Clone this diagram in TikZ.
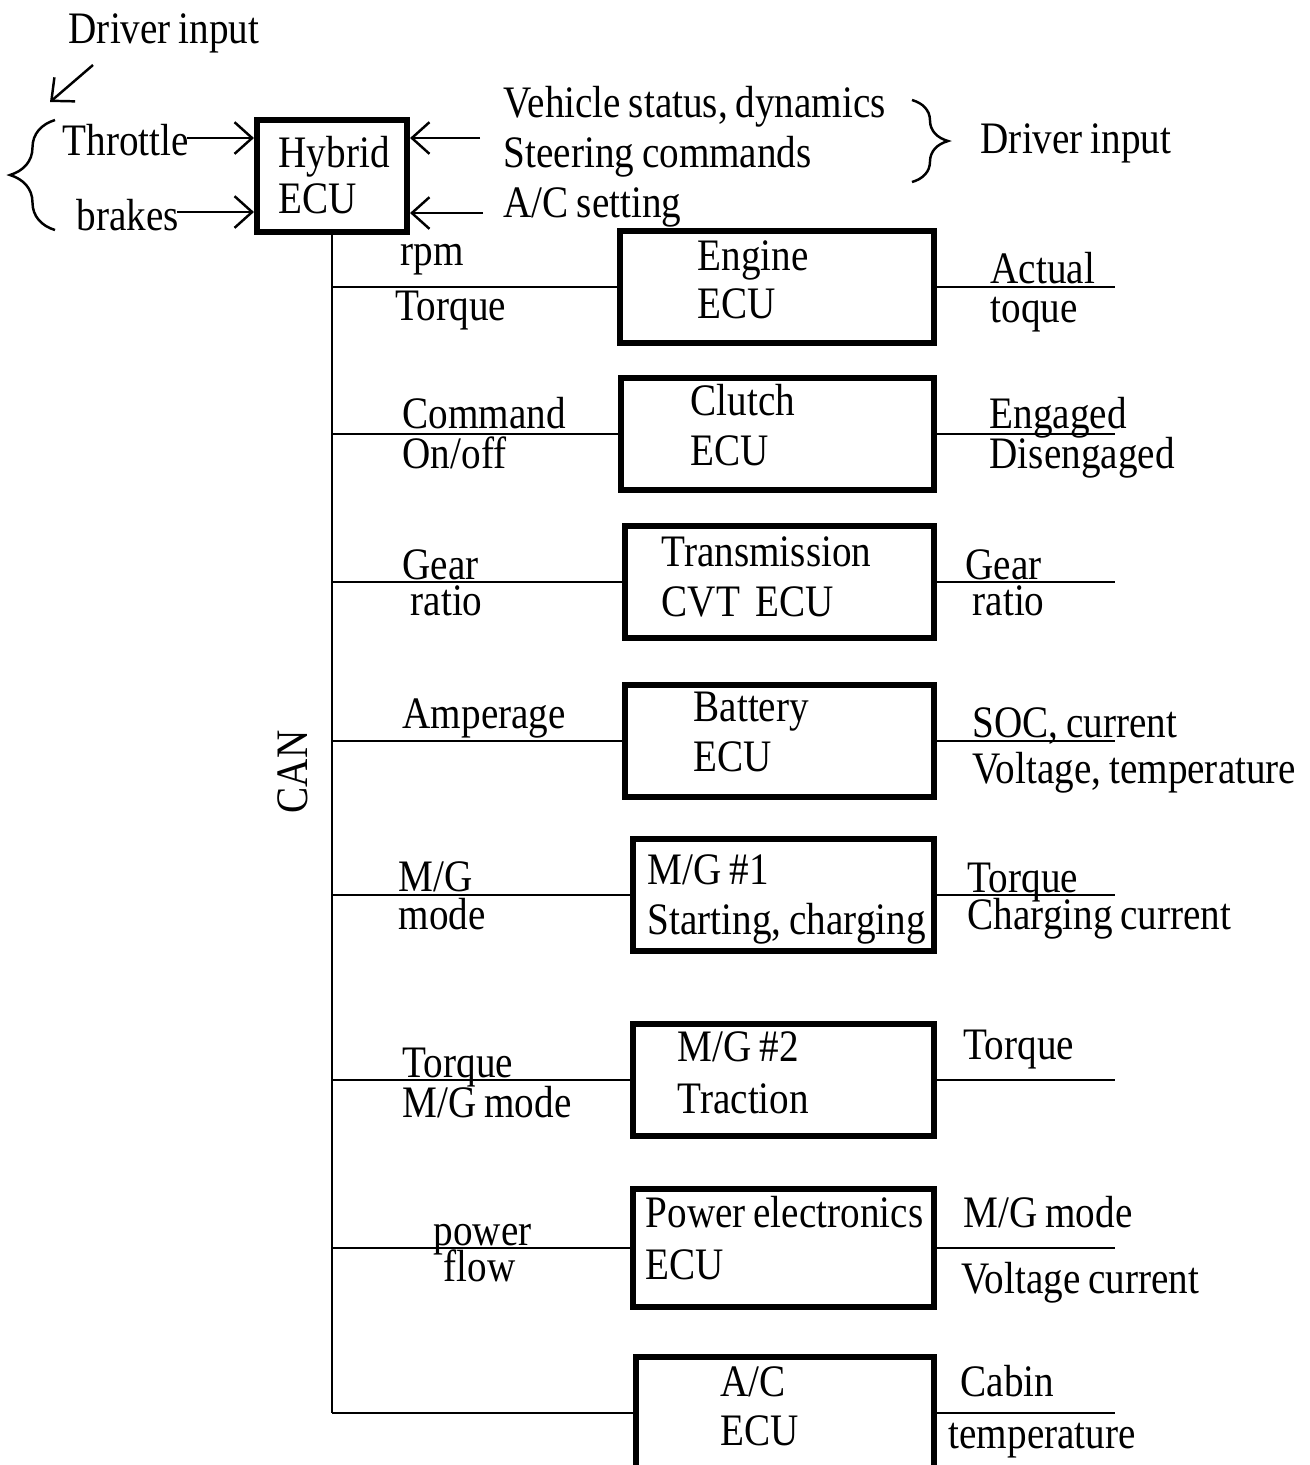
\documentclass[tikz,border=0pt]{standalone}
\usepackage{fontspec}
\setmainfont{Liberation Serif}[FakeStretch=0.87, WordSpace=0.8]
\usetikzlibrary{arrows.meta, decorations.pathreplacing}
\tikzset{
  ecu/.style={draw, line width=1.7pt, minimum height=1.11cm, inner sep=0pt},
  txt/.style={anchor=base west, inner sep=0pt},
  wire/.style={line width=0.7pt},
  inarrow/.style={line width=0.7pt, -{Straight Barb[length=5pt, width=9pt]}},
  curly/.style={line width=0.7pt, decorate, decoration={brace, amplitude=#1}},
}

\begin{document}
\begin{tikzpicture}[x=0.01cm, y=-0.01cm, font=\fontsize{12.8}{14}\selectfont]
  \useasboundingbox (0,0) rectangle (1310,1465);

  % Hybrid ECU and its inputs
  \node[ecu, minimum width=1.5cm, minimum height=1.12cm, align=left] (hybrid) at (332,176) {};
  \node[txt] (hyb-a) at (278,167) {Hybrid};
  \node[txt] (hyb-b) at (278,213) {ECU};

  \node[txt] (drvl) at (68,43) {Driver input};
  \coordinate (dl1) at (93,65);
  \coordinate (dl2) at (50,102);
  \draw[inarrow] (dl1) -- (dl2);
  \draw[curly=0.45cm] (55,230) -- (55,120);
  \node[txt] (throttle) at (62,155) {Throttle};
  \node[txt] (brakes) at (76,230) {brakes};
  \coordinate (thr) at (187,138);
  \coordinate (brk) at (177,212);
  \draw[inarrow] (thr) -- (thr -| hybrid.west);
  \draw[inarrow] (brk) -- (brk -| hybrid.west);

  \node[txt] (vehicle) at (503,117) {Vehicle status, dynamics};
  \node[txt] (steering) at (503,167) {Steering commands};
  \node[txt] (acset) at (503,217) {A/C setting};
  \coordinate (in1) at (480,138);
  \coordinate (in2) at (483,213);
  \draw[inarrow] (in1) -- (in1 -| hybrid.east);
  \draw[inarrow] (in2) -- (in2 -| hybrid.east);
  \draw[curly=0.36cm] (912,100) -- (912,182);
  \node[txt] (drvr) at (980,153) {Driver input};

  % CAN bus
  \coordinate (busend) at (332,1413);
  \draw[wire] (hybrid.south) -- (busend);
  \node[rotate=90] (can) at (293,772) {CAN};

  % Engine ECU
  \node[ecu, minimum width=3.14cm] (engine) at (777,287) {};
  \node[txt] (eng-a) at (697,270) {Engine};
  \node[txt] (eng-b) at (697,318) {ECU};
  \coordinate (tap1) at (332,287);
  \coordinate (out1) at (1115,287);
  \draw[wire] (tap1) -- (engine.west);
  \draw[wire] (engine.east) -- (out1);
  \node[txt] (rpm) at (400,265) {rpm};
  \node[txt] (torque1) at (395,320) {Torque};
  \node[txt] (actual) at (990,283) {Actual};
  \node[txt] (toque) at (990,322) {toque};

  % Clutch ECU
  \node[ecu, minimum width=3.13cm] (clutch) at (777.5,434) {};
  \node[txt] (clu-a) at (690,415) {Clutch};
  \node[txt] (clu-b) at (690,465) {ECU};
  \coordinate (tap2) at (332,434);
  \coordinate (out2) at (1115,434);
  \draw[wire] (tap2) -- (clutch.west);
  \draw[wire] (clutch.east) -- (out2);
  \node[txt] (command) at (402,428) {Command};
  \node[txt] (onoff) at (402,468) {On/off};
  \node[txt] (engaged) at (989,428) {Engaged};
  \node[txt] (disengaged) at (989,468) {Disengaged};

  % Transmission ECU
  \node[ecu, minimum width=3.09cm] (trans) at (779.5,582) {};
  \node[txt] (tra-a) at (661,566) {Transmission};
  \node[txt] (tra-b) at (661,616) {CVT\ \ ECU};
  \coordinate (tap3) at (332,582);
  \coordinate (out3) at (1115,582);
  \draw[wire] (tap3) -- (trans.west);
  \draw[wire] (trans.east) -- (out3);
  \node[txt] (gearl) at (402,579) {Gear};
  \node[txt] (ratiol) at (410,615) {ratio};
  \node[txt] (gearr) at (965,579) {Gear};
  \node[txt] (ratior) at (972,615) {ratio};

  % Battery ECU
  \node[ecu, minimum width=3.09cm] (battery) at (779.5,741) {};
  \node[txt] (bat-a) at (693,721) {Battery};
  \node[txt] (bat-b) at (693,771) {ECU};
  \coordinate (tap4) at (332,741);
  \coordinate (out4) at (1115,741);
  \draw[wire] (tap4) -- (battery.west);
  \draw[wire] (battery.east) -- (out4);
  \node[txt] (amperage) at (402,728) {Amperage};
  \node[txt] (soc) at (972,737) {SOC, current};
  \node[txt] (voltemp) at (972,783) {Voltage, temperature};

  % M/G 1
  \node[ecu, minimum width=3.01cm] (mg1) at (783.5,895) {};
  \node[txt] (mg1-a) at (647,884) {M/G \#1};
  \node[txt] (mg1-b) at (647,934) {Starting, charging};
  \coordinate (tap5) at (332,895);
  \coordinate (out5) at (1115,895);
  \draw[wire] (tap5) -- (mg1.west);
  \draw[wire] (mg1.east) -- (out5);
  \node[txt] (mgl) at (398,891) {M/G};
  \node[txt] (model) at (398,929) {mode};
  \node[txt] (torque2) at (967,892) {Torque};
  \node[txt] (chgcur) at (967,929) {Charging current};

  % M/G 2
  \node[ecu, minimum width=3.01cm] (mg2) at (783.5,1080) {};
  \node[txt] (mg2-a) at (677,1061) {M/G \#2};
  \node[txt] (mg2-b) at (677,1113) {Traction};
  \coordinate (tap6) at (332,1080);
  \coordinate (out6) at (1115,1080);
  \draw[wire] (tap6) -- (mg2.west);
  \draw[wire] (mg2.east) -- (out6);
  \node[txt] (torque3) at (402,1077) {Torque};
  \node[txt] (mgmode1) at (402,1117) {M/G mode};
  \node[txt] (torque4) at (963,1059) {Torque};

  % Power electronics ECU
  \node[ecu, minimum width=3.01cm, minimum height=1.17cm] (power) at (783.5,1248) {};
  \node[txt] (pow-a) at (645,1227) {Power electronics};
  \node[txt] (pow-b) at (645,1279) {ECU};
  \coordinate (tap7) at (332,1248);
  \coordinate (out7) at (1115,1248);
  \draw[wire] (tap7) -- (power.west);
  \draw[wire] (power.east) -- (out7);
  \node[txt] (pflow-a) at (433,1245) {power};
  \node[txt] (pflow-b) at (443,1281) {flow};
  \node[txt] (mgmode2) at (963,1227) {M/G mode};
  \node[txt] (volcur) at (961,1293) {Voltage current};

  % A/C ECU
  \node[ecu, minimum width=2.98cm, minimum height=1.12cm] (ac) at (785,1413) {};
  \node[txt] (ac-a) at (720,1396) {A/C};
  \node[txt] (ac-b) at (720,1445) {ECU};
  \coordinate (out8) at (1115,1413);
  \draw[wire] (busend) -- (ac.west);
  \draw[wire] (ac.east) -- (out8);
  \node[txt] (cabin) at (960,1396) {Cabin};
  \node[txt] (cabtemp) at (948,1448) {temperature};

\end{tikzpicture}
\end{document}
